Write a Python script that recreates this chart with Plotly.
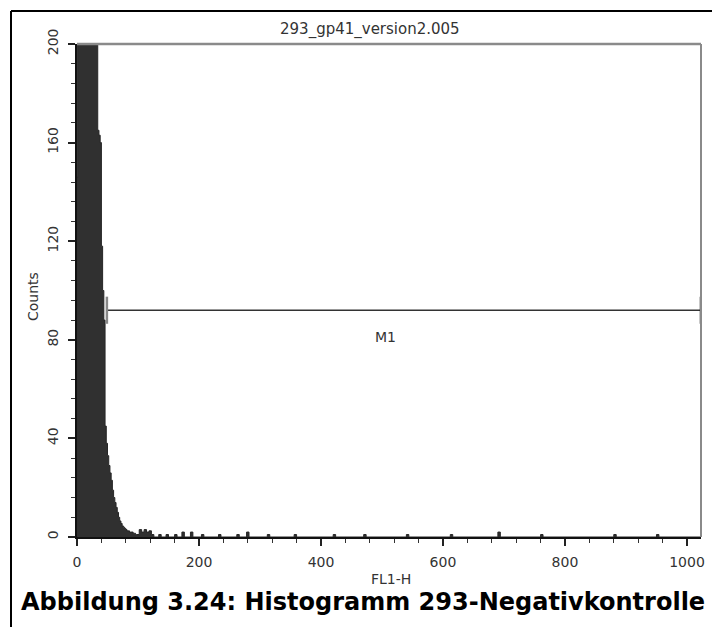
import plotly.graph_objects as go

# ---------------- data ----------------
# histogram bins of the main peak: left edge (channel) and counts
peak_channels = [0, 1, 4, 7, 10, 13, 16, 19, 22, 25, 28, 31,
                 34, 36, 38, 40, 42, 44, 46, 48, 50, 52, 54, 56, 58, 60, 62, 64,
                 66, 68, 70, 72, 74, 76, 78, 80, 82, 84, 86, 88, 90, 92, 94, 96, 98,
                 102, 106, 110, 114, 118, 122]
peak_counts = [146, 420, 690, 860, 930, 900, 810, 680, 540, 420, 320, 240,
               165, 163, 160, 118, 100, 88, 45, 38, 33, 29, 26, 23, 19, 16, 14, 12,
               10, 8, 6.5, 5.5, 4.5, 4, 3.5, 3, 2.5, 2.5, 2, 2, 2, 1.5, 1.5, 1, 1,
               3, 2, 3, 2, 2.5, 1]
peak_end = 126

# sparse events in the tail (channel, count), each bin 4 channels wide
tail_channels = [134, 146, 160, 172, 186, 204, 232, 262, 278, 312, 356, 420,
                 470, 540, 612, 690, 760, 880, 950]
tail_counts = [1, 1, 1, 2, 2, 1, 1, 1, 2, 1, 1, 1, 1, 1, 1, 2, 1, 1, 1]
tail_width = 4

# marker M1
m1_start, m1_end = 49, 1023
m1_level = 92
m1_label = "M1"

x_ticks = [0, 200, 400, 600, 800, 1000]
y_ticks = [0, 40, 80, 120, 160, 200]

title_text = "293_gp41_version2.005"
x_title = "FL1-H"
y_title = "Counts"
caption = "Abbildung 3.24: Histogramm 293-Negativkontrolle"

# ---------------- build step outline ----------------
xs = list(peak_channels) + [peak_end]
ys = list(peak_counts) + [0]
for c, n in zip(tail_channels, tail_counts):
    xs += [c, c + tail_width]
    ys += [n, 0]
xs.append(1023)
ys.append(0)

fig = go.Figure()
fig.add_trace(go.Scatter(
    x=xs, y=ys, mode="lines", line_shape="hv",
    fill="tozeroy", fillcolor="#303030",
    line=dict(color="#262626", width=1), hoverinfo="skip"))

# M1 marker
fig.add_trace(go.Scatter(
    x=[m1_start, m1_end], y=[m1_level, m1_level], mode="lines",
    line=dict(color="#333333", width=1.5), hoverinfo="skip"))
for xe, col in ((m1_start, "#888888"), (m1_end, "#222222")):
    fig.add_trace(go.Scatter(
        x=[xe, xe], y=[m1_level - 5.5, m1_level + 5.5], mode="lines",
        line=dict(color=col, width=2.5), hoverinfo="skip", cliponaxis=False))

FONT = "DejaVu Sans, Verdana, sans-serif"
tick_font = dict(family=FONT, size=14, color="#333333")

fig.update_layout(
    width=712, height=619,
    margin=dict(l=69, r=19, t=36, b=90),
    paper_bgcolor="white", plot_bgcolor="white",
    showlegend=False,
    xaxis=dict(range=[0, 1023], tickvals=x_ticks, showgrid=False, zeroline=False,
               showline=True, linecolor="#111111", linewidth=2,
               ticks="outside", ticklen=7, tickwidth=1.5, tickcolor="#222222",
               minor=dict(dtick=40, tick0=0, ticks="outside", ticklen=4,
                          tickwidth=1.2, tickcolor="#333333"),
               ticklabelstandoff=4,
               tickfont=tick_font, fixedrange=True),
    yaxis=dict(range=[0, 200], tickvals=y_ticks, showgrid=False, zeroline=False,
               showline=True, linecolor="#111111", linewidth=2,
               ticks="outside", ticklen=7, tickwidth=1.5, tickcolor="#222222",
               minor=dict(dtick=8, tick0=0, ticks="outside", ticklen=4,
                          tickwidth=1.2, tickcolor="#333333"),
               ticklabelstandoff=4,
               tickangle=-90, tickfont=tick_font, fixedrange=True),
)

# page pixel -> paper coordinates (plot area: page x 77..701, page y 44..537)
W, H = 624, 493
def px(xp):
    return (xp - 77) / W
def py(yp):
    return (537 - yp) / H

shapes = [
    # gray frame top and right
    dict(type="line", xref="paper", yref="paper", x0=0, x1=1, y0=1, y1=1,
         line=dict(color="#8a8a8a", width=2.5)),
    dict(type="line", xref="paper", yref="paper", x0=1, x1=1, y0=0, y1=1,
         line=dict(color="#8a8a8a", width=2)),
    # outer black frame
    dict(type="line", xref="paper", yref="paper", x0=px(11), x1=px(11), y0=py(11), y1=py(640),
         line=dict(color="black", width=2)),
    dict(type="line", xref="paper", yref="paper", x0=px(11), x1=px(718), y0=py(11), y1=py(11),
         line=dict(color="black", width=2)),
    dict(type="line", xref="paper", yref="paper", x0=px(718), x1=px(718), y0=py(11), y1=py(640),
         line=dict(color="black", width=2)),
]
fig.update_layout(shapes=shapes)

small = dict(family=FONT, size=14, color="#333333")
annotations = [
    dict(text=title_text, xref="paper", yref="paper", x=px(370), y=py(30),
         showarrow=False, font=dict(family=FONT, size=15, color="#333333"),
         xanchor="center", yanchor="middle"),
    dict(text=x_title, xref="paper", yref="paper", x=px(391), y=py(579),
         showarrow=False, font=small, xanchor="center", yanchor="middle"),
    dict(text=y_title, xref="paper", yref="paper", x=px(33), y=py(297),
         showarrow=False, font=small, textangle=-90, xanchor="center", yanchor="middle"),
    dict(text=m1_label, x=505, y=m1_level - 11, xref="x", yref="y",
         showarrow=False, font=small, xanchor="center", yanchor="middle"),
    dict(text="<b>" + caption + "</b>", xref="paper", yref="paper", x=px(19), y=py(602),
         showarrow=False, xanchor="left", yanchor="middle",
         font=dict(family=FONT, size=24, color="black")),
]
fig.update_layout(annotations=annotations)

fig.write_html("out.html")
